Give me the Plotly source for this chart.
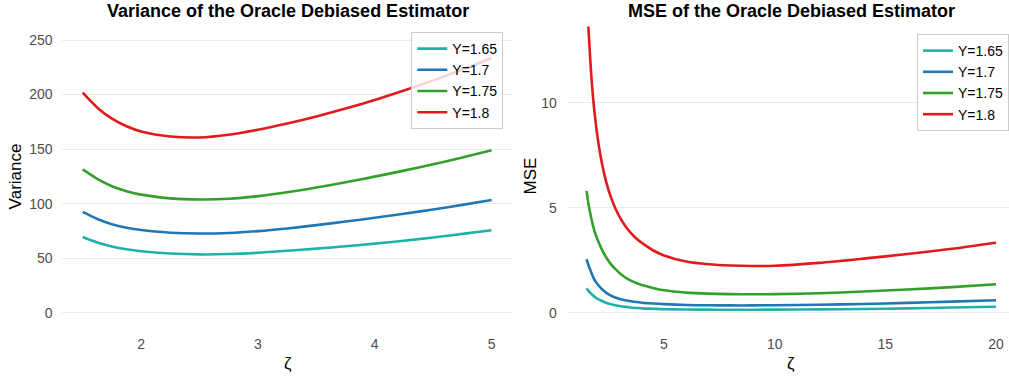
import plotly.graph_objects as go

# ---------------- data ----------------
labels = ["Y=1.65", "Y=1.7", "Y=1.75", "Y=1.8"]
colors = ["#20B2AA", "#1F78B4", "#33A02C", "#E31A1C"]

zeta_var = [1.5, 1.625, 1.75, 1.875, 2.0, 2.25, 2.5, 2.75, 3.0, 3.25, 3.5, 3.75, 4.0, 4.25, 4.5, 4.75, 5.0]
var_165 = [69.5, 64.5, 60.8, 58.2, 56.4, 54.3, 53.5, 53.8, 55.0, 56.8, 58.8, 61.0, 63.4, 66.0, 69.0, 72.3, 75.7]
var_170 = [92.4, 86.0, 81.2, 78.0, 75.8, 73.4, 72.6, 73.1, 74.8, 77.3, 80.3, 83.6, 87.1, 90.8, 94.7, 98.9, 103.4]
var_175 = [131.5, 122.8, 116.0, 111.5, 108.3, 104.9, 103.8, 104.5, 106.9, 110.5, 114.8, 119.6, 124.8, 130.3, 136.1, 142.3, 148.9]
var_180 = [201.7, 188.0, 178.0, 171.0, 166.2, 161.6, 160.7, 163.2, 167.8, 173.5, 180.0, 187.2, 195.1, 203.7, 213.0, 223.0, 233.6]

zeta_mse = [1.5, 1.6, 1.7, 1.8, 1.9, 2.0, 2.2, 2.4, 2.6, 2.8, 3.0, 3.25, 3.5, 3.75, 4.0, 4.5, 5.0,
            6.0, 7.0, 8.0, 9.0, 10.0, 12.0, 14.0, 16.0, 18.0, 20.0]
mse_165 = [1.16, 1.03, 0.92, 0.82, 0.73, 0.66, 0.56, 0.47, 0.41, 0.36, 0.32, 0.28, 0.25, 0.23, 0.21, 0.19, 0.17,
           0.155, 0.15, 0.145, 0.145, 0.15, 0.16, 0.18, 0.21, 0.25, 0.29]
mse_170 = [2.55, 2.23, 1.96, 1.70, 1.50, 1.36, 1.12, 0.95, 0.82, 0.73, 0.66, 0.60, 0.55, 0.51, 0.48, 0.44, 0.41,
           0.37, 0.355, 0.35, 0.35, 0.36, 0.38, 0.42, 0.47, 0.53, 0.60]
mse_175 = [5.81, 5.12, 4.58, 4.12, 3.76, 3.48, 3.00, 2.62, 2.32, 2.09, 1.88, 1.68, 1.53, 1.42, 1.32, 1.18, 1.07,
           0.96, 0.91, 0.89, 0.88, 0.89, 0.93, 1.01, 1.11, 1.22, 1.36]
mse_180 = [15.85, 13.3, 11.55, 10.2, 9.18, 8.35, 7.10, 6.19, 5.51, 4.98, 4.56, 4.14, 3.81, 3.54, 3.33, 2.98, 2.73,
           2.44, 2.31, 2.25, 2.23, 2.24, 2.38, 2.58, 2.80, 3.05, 3.34]

var_series = [var_165, var_170, var_175, var_180]
mse_series = [mse_165, mse_170, mse_175, mse_180]

# ---------------- figure ----------------
W, H = 1009, 379
fig = go.Figure()

for lab, col, ys in zip(labels, colors, var_series):
    fig.add_trace(go.Scatter(x=zeta_var, y=ys, mode="lines", name=lab,
                             line=dict(color=col, width=2.6, shape="spline", smoothing=0.8),
                             xaxis="x", yaxis="y", legend="legend"))
for lab, col, ys in zip(labels, colors, mse_series):
    fig.add_trace(go.Scatter(x=zeta_mse, y=ys, mode="lines", name=lab,
                             line=dict(color=col, width=2.6, shape="spline", smoothing=0.8),
                             xaxis="x2", yaxis="y2", legend="legend2"))

def px_x(p):
    return p / W

def px_y(p):
    return 1 - p / H

ydom = [px_y(326.4), px_y(26.4)]
tickfont = dict(family="Arial", size=14, color="#4D4D4D")
common = dict(zeroline=False, showline=False, ticks="outside", tickcolor="rgba(0,0,0,0)",
              tickfont=tickfont, automargin=False)
xgrid = dict(showgrid=False, **common)
ygrid = dict(showgrid=True, gridcolor="#EBEBEB", gridwidth=1.2, **common)

legend_style = dict(bgcolor="rgba(255,255,255,0.8)", bordercolor="#CCCCCC", borderwidth=1,
                    font=dict(family="Arial", size=14, color="black"), tracegroupgap=0)

fig.update_layout(
    width=W, height=H,
    margin=dict(l=0, r=0, t=0, b=0, autoexpand=False),
    paper_bgcolor="white", plot_bgcolor="white",
    xaxis=dict(domain=[px_x(62.3), px_x(512)], range=[1.325, 5.175],
               tickvals=[2, 3, 4, 5], ticklen=5, anchor="y", **xgrid),
    yaxis=dict(domain=ydom, range=[-12.5, 262.5], tickvals=[0, 50, 100, 150, 200, 250],
               ticklen=6, anchor="x", **ygrid),
    xaxis2=dict(domain=[px_x(566.7), 1.0], range=[0.604, 20.587],
                tickvals=[5, 10, 15, 20], ticklen=5, anchor="y2", **xgrid),
    yaxis2=dict(domain=ydom, range=[-0.65, 13.65], tickvals=[0, 5, 10],
                ticklen=6, anchor="x2", **ygrid),
    legend=dict(x=px_x(503.3), xanchor="right", y=px_y(32), yanchor="top", **legend_style),
    legend2=dict(x=1.0, xanchor="right", y=px_y(34), yanchor="top", **legend_style),
    showlegend=True,
)

annots = [
    dict(text="<b>Variance of the Oracle Debiased Estimator</b>", x=px_x(287.5), y=px_y(11),
         font=dict(family="Arial", size=18, color="black")),
    dict(text="<b>MSE of the Oracle Debiased Estimator</b>", x=px_x(791), y=px_y(11),
         font=dict(family="Arial", size=18, color="black")),
    dict(text="ζ", x=px_x(287.5), y=px_y(363), font=dict(family="Arial", size=17, color="black")),
    dict(text="ζ", x=px_x(791), y=px_y(363), font=dict(family="Arial", size=17, color="black")),
    dict(text="Variance", x=px_x(15), y=px_y(176.4), textangle=-90,
         font=dict(family="Arial", size=17, color="black")),
    dict(text="MSE", x=px_x(530), y=px_y(176.4), textangle=-90,
         font=dict(family="Arial", size=17, color="black")),
]
for a in annots:
    a.update(xref="paper", yref="paper", showarrow=False, xanchor="center", yanchor="middle")
fig.update_layout(annotations=annots)

fig.write_html("out.html", config={"displayModeBar": False},
               post_script="document.body.style.margin='0px';document.body.style.overflow='hidden';")
